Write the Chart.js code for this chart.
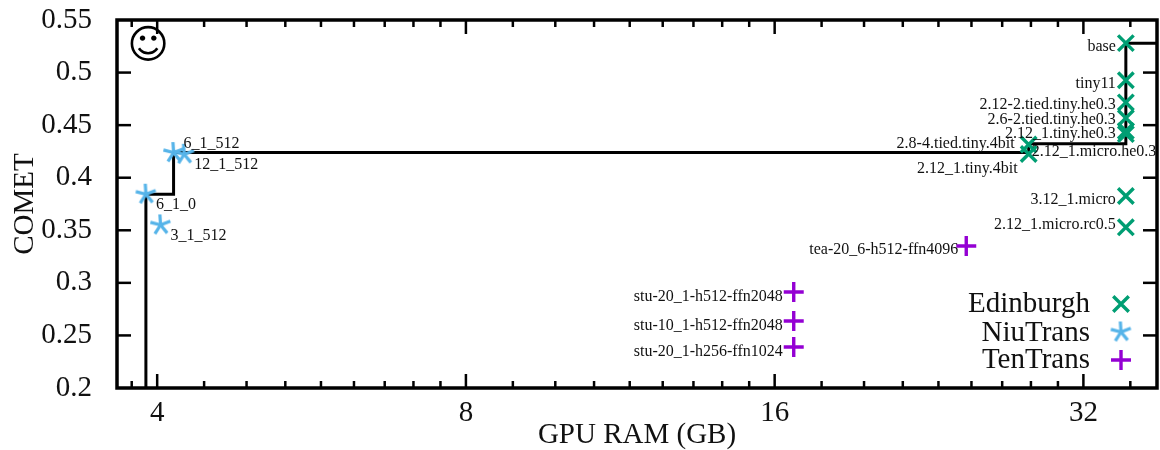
<!DOCTYPE html>
<html><head><meta charset="utf-8">
<style>html,body{margin:0;padding:0;background:#fff}canvas{display:block}</style>
<script src="https://cdn.jsdelivr.net/npm/chart.js@4"></script>
</head><body><canvas id="c" width="1160" height="450"></canvas>
<script>
const edinburghLabels=["base","tiny11","2.12-2.tied.tiny.he0.3","2.6-2.tied.tiny.he0.3","2.12_1.tiny.he0.3","2.12_1.micro.he0.3","2.8-4.tied.tiny.4bit","2.12_1.tiny.4bit","3.12_1.micro","2.12_1.micro.rc0.5"];
const edinburghX=[35.2,35.2,35.2,35.2,35.2,35.2,28.3,28.3,35.2,35.2];
const edinburghY=[0.528,0.4927,0.4716,0.4568,0.4445,0.4415,0.4315,0.4226,0.3826,0.3528];
const niuLabels=["6_1_512","12_1_512","6_1_0","3_1_512"];
const niuX=[4.15,4.25,3.90,4.03];
const niuY=[0.4239,0.4223,0.3843,0.3551];
const tenLabels=["tea-20_6-h512-ffn4096","stu-20_1-h512-ffn2048","stu-10_1-h512-ffn2048","stu-20_1-h256-ffn1024"];
const tenX=[24.6,16.7,16.7,16.7];
const tenY=[0.335,0.2913,0.2637,0.239];
const frontierX=[3.90,3.90,4.15,4.15,28.3,28.3,35.2,35.2,37.75];
const frontierY=[0.2,0.3843,0.3843,0.4239,0.4239,0.4322,0.4322,0.528,0.528];
const xMajorTicks=[4,8,16,32];
const xSubdivisions=9;
const yMin=0.2,yMax=0.55,yStep=0.05,xMin=3.655,xMax=37.75;

const SERIF='"Liberation Serif",serif';
const GREEN='#009E73',BLUE='#56B4E9',PURPLE='#9400D3';
const zip=(xs,ys)=>xs.map((x,i)=>({x,y:ys[i]}));

function starCanvas(r,w,color){
  const s=Math.ceil(r*2+w+2),c=document.createElement('canvas');c.width=s;c.height=s;
  const g=c.getContext('2d');g.strokeStyle=color;g.lineWidth=w;g.lineCap='butt';g.translate(s/2,s/2);
  for(let i=0;i<5;i++){const a=-Math.PI/2+i*2*Math.PI/5-0.06;g.beginPath();g.moveTo(0,0);g.lineTo(r*Math.cos(a),r*Math.sin(a));g.stroke();}
  return c;
}
const star=starCanvas(10.5,3.2,BLUE);

// label placement: [align, dx, dy] from its point, in px
const edinburghPlace=[['right',-10,3.5],['right',-10,3.5],['right',-10,2],['right',-10,2],['right',-10,3],['left',-94,18],['right',-14,-0.5],['right',-11,15],['right',-10,4],['right',-10,-3]];
const niuPlace=[['left',10,-9],['left',10,11],['left',10,11],['left',10,11]];
const tenPlace=[['right',-8,4],['right',-11,5],['right',-11,5],['right',-11,5]];

const legendRows=[{y:304,base:312},{y:332,base:341},{y:360,base:368}];
const plotRight=1157;

const annotate={id:'annotate',
  afterLayout(ch){
    const X=ch.scales.x,a=ch.chartArea;
    X.right=plotRight;X.width=plotRight-X.left;X.configure();
    a.right=plotRight;a.width=plotRight-a.left;
  },
  beforeDatasetsDraw(ch){
    const g=ch.ctx,a=ch.chartArea,X=ch.scales.x,Y=ch.scales.y;
    g.save();g.strokeStyle='#000';g.lineWidth=2.5;
    const line=(x1,y1,x2,y2)=>{g.beginPath();g.moveTo(x1,y1);g.lineTo(x2,y2);g.stroke();};
    for(let v=yMin+yStep;v<yMax-1e-6;v+=yStep){const p=Y.getPixelForValue(v);line(a.left,p,a.left+14,p);line(a.right,p,a.right-14,p);}
    const bases=[2,...xMajorTicks];
    bases.forEach(b=>{for(let k=0;k<xSubdivisions;k++){const v=b+b*k/xSubdivisions;if(v<xMin||v>xMax)continue;
      const p=X.getPixelForValue(v),len=(k===0)?14:7;line(p,a.bottom,p,a.bottom-len);line(p,a.top,p,a.top+len);}});
    g.restore();
  },
  afterDatasetsDraw(ch){
    const g=ch.ctx,a=ch.chartArea,X=ch.scales.x,Y=ch.scales.y;
    g.save();
    g.strokeStyle='#000';g.lineWidth=3.5;g.strokeRect(a.left,a.top,a.right-a.left,a.bottom-a.top);
    g.fillStyle='#111';g.font='16px '+SERIF;g.textBaseline='middle';
    const put=(ls,xs,ys,pl)=>ls.forEach((t,i)=>{const [al,dx,dy]=pl[i];g.textAlign=al;g.fillText(t,X.getPixelForValue(xs[i])+dx,Y.getPixelForValue(ys[i])+dy);});
    put(edinburghLabels,edinburghX,edinburghY,edinburghPlace);
    put(niuLabels,niuX,niuY,niuPlace);
    put(tenLabels,tenX,tenY,tenPlace);
    // legend
    g.textBaseline='alphabetic';g.textAlign='right';g.font='29px '+SERIF;
    [0,1,2].forEach(i=>{const d=ch.data.datasets[i],r=legendRows[i];
      g.fillStyle='#111';g.fillText(d.label,1090,r.base);
      g.lineWidth=3.4;g.strokeStyle=d.borderColor;
      Chart.helpers.drawPoint(g,{pointStyle:d.pointStyle,rotation:0,radius:d.pointRadius,borderWidth:3.4},1121,r.y);
    });
    // smiley
    g.fillStyle='#000';g.textAlign='center';g.textBaseline='middle';g.font='40px "DejaVu Sans"';
    g.fillText('\u263A',148,48);
    g.restore();
  }
};

const noPad=s=>{s.paddingLeft=s.paddingRight=s.paddingTop=s.paddingBottom=0;};

new Chart(document.getElementById('c'),{
  type:'scatter',
  data:{datasets:[
    {label:'Edinburgh',data:zip(edinburghX,edinburghY),pointStyle:'crossRot',pointRadius:11,pointHoverRadius:11,borderColor:GREEN,backgroundColor:GREEN,pointBorderWidth:3.4,clip:false},
    {label:'NiuTrans',data:zip(niuX,niuY),pointStyle:star,pointRadius:10,borderColor:BLUE,backgroundColor:BLUE,clip:false},
    {label:'TenTrans',data:zip(tenX,tenY),pointStyle:'cross',pointRadius:10,pointHoverRadius:10,borderColor:PURPLE,backgroundColor:PURPLE,pointBorderWidth:3.4,clip:false},
    {label:'frontier',data:zip(frontierX,frontierY),showLine:true,stepped:true,pointRadius:0,borderColor:'#000',borderWidth:3}
  ]},
  options:{
    responsive:false,animation:false,
    layout:{padding:{left:0,right:3,top:20,bottom:0}},
    plugins:{legend:{display:false},tooltip:{enabled:false}},
    scales:{
      x:{type:'logarithmic',min:xMin,max:xMax,
        grid:{display:false,drawTicks:false,tickLength:0},border:{display:false},
        afterBuildTicks(s){s.ticks=xMajorTicks.map(v=>({value:v,major:true}));},
        afterFit(s){s.height=62;noPad(s);},
        ticks:{autoSkip:false,maxRotation:0,padding:8,color:'#111',font:{family:SERIF,size:29},callback:v=>String(v)},
        title:{display:true,text:'GPU RAM (GB)',color:'#111',font:{family:SERIF,size:29},padding:{top:0,bottom:-3}}
      },
      y:{type:'linear',min:yMin,max:yMax,
        grid:{display:false,drawTicks:false,tickLength:0},border:{display:false},
        afterFit(s){s.width=117;noPad(s);},
        ticks:{stepSize:yStep,padding:25,color:'#111',font:{family:SERIF,size:29},callback:v=>String(+v.toFixed(2))},
        title:{display:true,text:'COMET',color:'#111',font:{family:SERIF,size:29},padding:{top:8,bottom:0}}
      }
    }
  },
  plugins:[annotate]
});
</script></body></html>
